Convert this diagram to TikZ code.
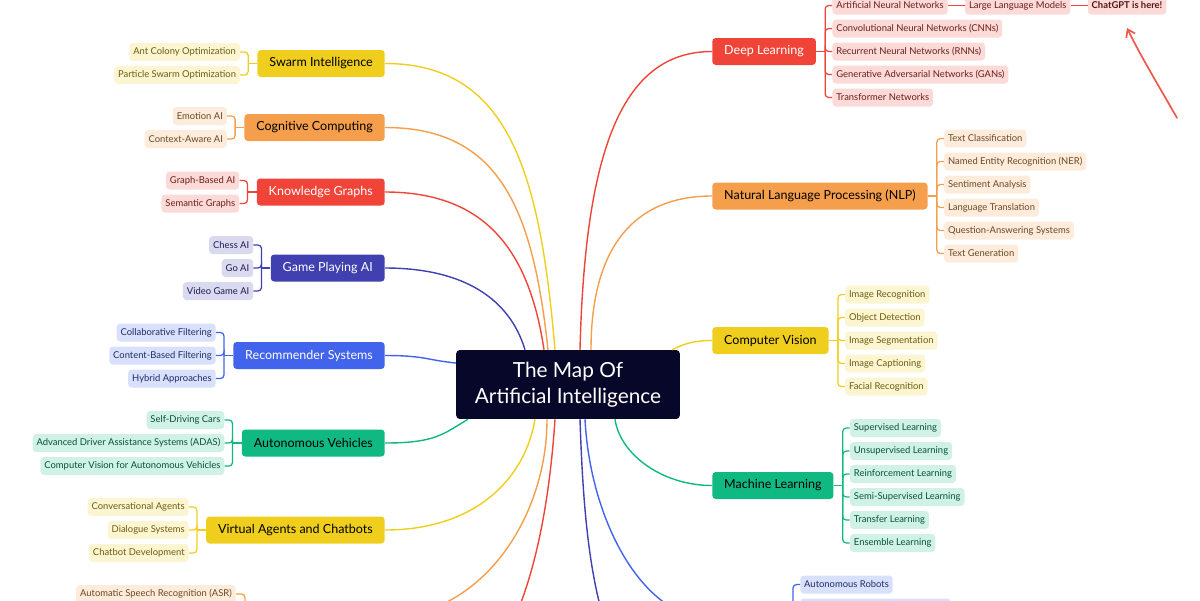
\documentclass[tikz,border=0pt]{standalone}
\usepackage{fontspec}
\setmainfont{Lato}
\usetikzlibrary{positioning,calc,arrows.meta}
\definecolor{ylx}{HTML}{F0CE1E}
\definecolor{orx}{HTML}{F59E4B}
\definecolor{rdx}{HTML}{F04438}
\definecolor{inx}{HTML}{4040B0}
\definecolor{blx}{HTML}{4263EB}
\definecolor{gnx}{HTML}{10B981}
\definecolor{hubx}{HTML}{07072A}

\tikzset{
    topic/.style={fill=#1, rounded corners=2.5pt, minimum height=19.2pt,
        inner xsep=8.5pt, inner ysep=0pt, font=\fontsize{8.9}{10}\selectfont},
    leaf/.style={fill=#1!20, text=#1!45!black, rounded corners=2.5pt,
        minimum height=12.8pt, inner xsep=2.8pt, inner ysep=0pt,
        font=\fontsize{6.7}{8}\selectfont},
    link/.style={draw=#1, line width=1pt},
    twig/.style={draw=#1, line width=0.9pt, rounded corners=2.5pt}
}

\begin{document}
\begin{tikzpicture}[x=0.025cm, y=-0.025cm]
    \useasboundingbox (0,0) rectangle (1200,600);
    \node[fill=hubx, text=white, rounded corners=2.5pt, minimum width=159pt,
        minimum height=49pt, align=center,
        font=\fontsize{14.8}{18.5}\selectfont] (hub) at (568,384.5)
        {The Map Of\\Artificial Intelligence};

    % left side
    \node[topic=ylx, anchor=east] (swarm) at (385,63.5) {Swarm Intelligence};
    \coordinate (swarm-b) at ($(swarm.west)+(-9,0)$);
    \draw[twig=ylx] (swarm.west) -- (swarm-b);
    \foreach \lbl/\dy [count=\i] in {{Ant Colony Optimization}/-11.5,
        {Particle Swarm Optimization}/11.5}{
        \node[leaf=ylx, anchor=east] (swarm-\i) at ($(swarm.west)+(-17,\dy)$) {\lbl};
        \draw[twig=ylx] (swarm-b) |- (swarm-\i.east);
    }
    \draw[link=ylx] (swarm.east) .. controls +(125,0) and +(-15,-175) .. (555,0 |- hub.north);

    \node[topic=orx, anchor=east] (cogn) at (385,127.5) {Cognitive Computing};
    \coordinate (cogn-b) at ($(cogn.west)+(-9,0)$);
    \draw[twig=orx] (cogn.west) -- (cogn-b);
    \foreach \lbl/\dy [count=\i] in {{Emotion AI}/-11.5, {Context-Aware AI}/11.5}{
        \node[leaf=orx, anchor=east] (cogn-\i) at ($(cogn.west)+(-17,\dy)$) {\lbl};
        \draw[twig=orx] (cogn-b) |- (cogn-\i.east);
    }
    \draw[link=orx] (cogn.east) .. controls +(115,0) and +(-15,-140) .. (548,0 |- hub.north);

    \node[topic=rdx, text=white, anchor=east] (know) at (385,192) {Knowledge Graphs};
    \coordinate (know-b) at ($(know.west)+(-9,0)$);
    \draw[twig=rdx] (know.west) -- (know-b);
    \foreach \lbl/\dy [count=\i] in {{Graph-Based AI}/-11.5, {Semantic Graphs}/11.5}{
        \node[leaf=rdx, anchor=east] (know-\i) at ($(know.west)+(-17,\dy)$) {\lbl};
        \draw[twig=rdx] (know-b) |- (know-\i.east);
    }
    \draw[link=rdx] (know.east) .. controls +(100,0) and +(-15,-100) .. (544,0 |- hub.north);

    \node[topic=inx, text=white, anchor=east] (game) at (385,268) {Game Playing AI};
    \coordinate (game-b) at ($(game.west)+(-9,0)$);
    \draw[twig=inx] (game.west) -- (game-b);
    \foreach \lbl/\dy [count=\i] in {{Chess AI}/-23, {Go AI}/0, {Video Game AI}/23}{
        \node[leaf=inx, anchor=east] (game-\i) at ($(game.west)+(-17,\dy)$) {\lbl};
        \draw[twig=inx] (game-b) |- (game-\i.east);
    }
    \draw[link=inx] (game.east) .. controls +(80,0) and +(-15,-50) .. (525,0 |- hub.north);

    \node[topic=blx, text=white, anchor=east] (recom) at (385,355.5) {Recommender Systems};
    \coordinate (recom-b) at ($(recom.west)+(-9,0)$);
    \draw[twig=blx] (recom.west) -- (recom-b);
    \foreach \lbl/\dy [count=\i] in {{Collaborative Filtering}/-23,
        {Content-Based Filtering}/0, {Hybrid Approaches}/23}{
        \node[leaf=blx, anchor=east] (recom-\i) at ($(recom.west)+(-17,\dy)$) {\lbl};
        \draw[twig=blx] (recom-b) |- (recom-\i.east);
    }
    \draw[link=blx] (recom.east) .. controls +(40,0) and +(-30,-3) .. (hub.west |- 0,363);

    \node[topic=gnx, anchor=east] (auto) at (385,443) {Autonomous Vehicles};
    \coordinate (auto-b) at ($(auto.west)+(-9,0)$);
    \draw[twig=gnx] (auto.west) -- (auto-b);
    \foreach \lbl/\dy [count=\i] in {{Self-Driving Cars}/-23,
        {Advanced Driver Assistance Systems (ADAS)}/0,
        {Computer Vision for Autonomous Vehicles}/23}{
        \node[leaf=gnx, anchor=east] (auto-\i) at ($(auto.west)+(-17,\dy)$) {\lbl};
        \draw[twig=gnx] (auto-b) |- (auto-\i.east);
    }
    \draw[link=gnx] (auto.east) .. controls +(50,0) and +(-25,15) .. (468,0 |- hub.south);

    \node[topic=ylx, anchor=east] (agent) at (385,530) {Virtual Agents and Chatbots};
    \coordinate (agent-b) at ($(agent.west)+(-9,0)$);
    \draw[twig=ylx] (agent.west) -- (agent-b);
    \foreach \lbl/\dy [count=\i] in {{Conversational Agents}/-23,
        {Dialogue Systems}/0, {Chatbot Development}/23}{
        \node[leaf=ylx, anchor=east] (agent-\i) at ($(agent.west)+(-17,\dy)$) {\lbl};
        \draw[twig=ylx] (agent-b) |- (agent-\i.east);
    }
    \draw[link=ylx] (agent.east) .. controls +(90,0) and +(-10,60) .. (535,0 |- hub.south);

    % below the page
    \coordinate (speech) at (385,617);
    \coordinate (speech-b) at (245,617);
    \node[leaf=orx, anchor=east] (speech-1) at (236,594) {Automatic Speech Recognition (ASR)};
    \draw[twig=orx] (speech-b) |- (speech-1.east);
    \draw[link=orx] (speech) .. controls +(95,0) and +(0,100) .. (547,0 |- hub.south);
    \coordinate (lowred) at (385,720);
    \draw[link=rdx] (lowred) .. controls +(120,0) and +(-10,150) .. (555,0 |- hub.south);
    \coordinate (lowind) at (712,720);
    \draw[link=inx] (lowind) .. controls +(-112,0) and +(5,150) .. (580,0 |- hub.south);

    % right side
    \node[topic=rdx, text=white, anchor=west] (deep) at (712,51.5) {Deep Learning};
    \coordinate (deep-b) at ($(deep.east)+(9,0)$);
    \draw[twig=rdx] (deep.east) -- (deep-b);
    \foreach \lbl/\dy [count=\i] in {{Artificial Neural Networks}/-46,
        {Convolutional Neural Networks (CNNs)}/-23,
        {Recurrent Neural Networks (RNNs)}/0,
        {Generative Adversarial Networks (GANs)}/23,
        {Transformer Networks}/46}{
        \node[leaf=rdx, anchor=west] (deep-\i) at ($(deep.east)+(16,\dy)$) {\lbl};
        \draw[twig=rdx] (deep-b) |- (deep-\i.west);
    }
    \node[leaf=rdx, right=12pt of deep-1] (llm) {Large Language Models};
    \node[leaf=rdx, right=12pt of llm, text=rdx!35!black,
        font=\bfseries\fontsize{6.7}{8}\selectfont] (gpt) {ChatGPT is here!};
    \draw[twig=rdx] (deep-1) -- (llm);
    \draw[twig=rdx] (llm) -- (gpt);
    \draw[link=rdx] (deep.west) .. controls +(-90,0) and +(5,-200) .. (580,0 |- hub.north);

    \coordinate (hint-a) at (1177,118);
    \coordinate (hint-b) at (1127,28);
    \draw[rdx!90!white, line width=1.2pt, line cap=round,
        -{Straight Barb[length=5pt,width=7pt]}]
        (hint-a) .. controls (1160,88) and (1140,55) .. (hint-b);

    \node[topic=orx, anchor=west] (nlp) at (712,196) {Natural Language Processing (NLP)};
    \coordinate (nlp-b) at ($(nlp.east)+(9,0)$);
    \draw[twig=orx] (nlp.east) -- (nlp-b);
    \foreach \lbl/\dy [count=\i] in {{Text Classification}/-57.5,
        {Named Entity Recognition (NER)}/-34.5, {Sentiment Analysis}/-11.5,
        {Language Translation}/11.5, {Question-Answering Systems}/34.5,
        {Text Generation}/57.5}{
        \node[leaf=orx, anchor=west] (nlp-\i) at ($(nlp.east)+(16,\dy)$) {\lbl};
        \draw[twig=orx] (nlp-b) |- (nlp-\i.west);
    }
    \draw[link=orx] (nlp.west) .. controls +(-80,0) and +(0,-100) .. (591,0 |- hub.north);

    \node[topic=ylx, anchor=west] (vision) at (712,340.5) {Computer Vision};
    \coordinate (vision-b) at ($(vision.east)+(9,0)$);
    \draw[twig=ylx] (vision.east) -- (vision-b);
    \foreach \lbl/\dy [count=\i] in {{Image Recognition}/-46,
        {Object Detection}/-23, {Image Segmentation}/0,
        {Image Captioning}/23, {Facial Recognition}/46}{
        \node[leaf=ylx, anchor=west] (vision-\i) at ($(vision.east)+(16,\dy)$) {\lbl};
        \draw[twig=ylx] (vision-b) |- (vision-\i.west);
    }
    \draw[link=ylx] (vision.west) .. controls +(-20,0) and +(10,-5) .. (672,0 |- hub.north);

    \node[topic=gnx, anchor=west] (mlearn) at (712,485.5) {Machine Learning};
    \coordinate (mlearn-b) at ($(mlearn.east)+(9,0)$);
    \draw[twig=gnx] (mlearn.east) -- (mlearn-b);
    \foreach \lbl/\dy [count=\i] in {{Supervised Learning}/-57.5,
        {Unsupervised Learning}/-34.5, {Reinforcement Learning}/-11.5,
        {Semi-Supervised Learning}/11.5, {Transfer Learning}/34.5,
        {Ensemble Learning}/57.5}{
        \node[leaf=gnx, anchor=west] (mlearn-\i) at ($(mlearn.east)+(16,\dy)$) {\lbl};
        \draw[twig=gnx] (mlearn-b) |- (mlearn-\i.west);
    }
    \draw[link=gnx] (mlearn.west) .. controls +(-50,0) and +(5,35) .. (615,0 |- hub.south);

    % below the page
    \coordinate (robot) at (712,619);
    \coordinate (robot-b) at (793,619);
    \node[leaf=blx, anchor=west] (robot-1) at (800,584.5) {Autonomous Robots};
    \node[leaf=blx, anchor=west, minimum width=107pt] (robot-2) at (800,607.5) {};
    \draw[twig=blx] (robot-b) |- (robot-1.west);
    \draw[link=blx] (robot) .. controls +(-70,0) and +(5,100) .. (585,0 |- hub.south);
\end{tikzpicture}
\end{document}
